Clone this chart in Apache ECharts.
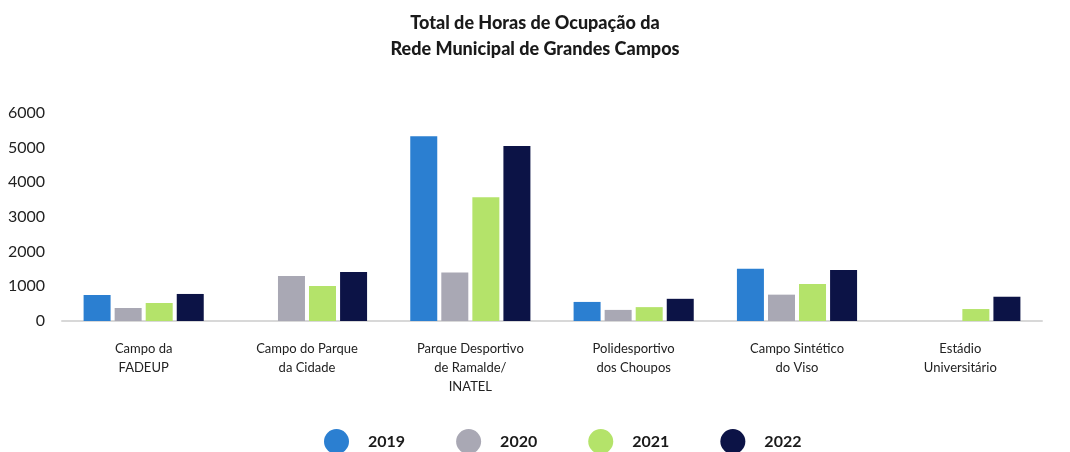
<!DOCTYPE html>
<html>
<head>
<meta charset="utf-8">
<script src="https://cdn.jsdelivr.net/npm/echarts@6/dist/echarts.min.js"></script>
<style>
  html, body { margin: 0; padding: 0; background: #fff; }
  #chart { width: 1070px; height: 452px; }
</style>
</head>
<body>
<div id="chart"></div>
<script>
// campos e horas por ano
var campos = [
    'Campo da\nFADEUP',
    'Campo do Parque\nda Cidade',
    'Parque Desportivo\nde Ramalde/\nINATEL',
    'Polidesportivo\ndos Choupos',
    'Campo Sintético\ndo Viso',
    'Estádio\nUniversitário'
];
var anos = ['2019', '2020', '2021', '2022'];
var horas2019 = [750, 0, 5330, 550, 1510, 0];
var horas2020 = [375, 1300, 1400, 320, 760, 0];
var horas2021 = [520, 1010, 3570, 400, 1070, 345];
var horas2022 = [780, 1410, 5050, 640, 1470, 700];
var yTicks = [0, 1000, 2000, 3000, 4000, 5000, 6000];

var cores = ['#2b7fd1', '#a9a8b4', '#b4e36a', '#0c1346'];
var valores = [horas2019, horas2020, horas2021, horas2022];

var grafico = echarts.init(document.getElementById('chart'));

var series = [];
for (var i = 0; i < anos.length; i++) {
    series.push({
        name: anos[i],
        type: 'bar',
        data: valores[i],
        barWidth: 27,
        barGap: '15%',
        itemStyle: { color: cores[i] }
    });
}

var opcao = {
    backgroundColor: '#fff',
    textStyle: { fontFamily: 'Lato' },
    title: {
        text: 'Total de Horas de Ocupação da\nRede Municipal de Grandes Campos',
        left: 'center',
        top: 5,
        textStyle: {
            fontFamily: 'Lato',
            fontSize: 18,
            fontWeight: 900,
            color: '#1a1a1a',
            lineHeight: 26
        }
    },
    legend: {
        data: anos,
        top: 424,
        left: 319,
        icon: 'circle',
        itemWidth: 25,
        itemHeight: 25,
        itemGap: 51,
        textStyle: {
            fontSize: 16,
            fontWeight: 'bold',
            color: '#1a1a1a',
            padding: [0, 0, 0, 14]
        }
    },
    grid: {
        left: 62,
        right: 28,
        top: 113,
        bottom: 131,
        containLabel: false
    },
    xAxis: {
        type: 'category',
        data: campos,
        axisTick: { show: false },
        axisLine: { lineStyle: { color: '#d8d8d8', width: 2 } },
        axisLabel: {
            interval: 0,
            margin: 18,
            fontSize: 13,
            lineHeight: 19,
            color: '#222'
        }
    },
    yAxis: {
        type: 'value',
        min: yTicks[0],
        max: yTicks[yTicks.length - 1],
        interval: 1000,
        splitLine: { show: false },
        axisLine: { show: false },
        axisTick: { show: false },
        axisLabel: {
            fontSize: 16,
            color: '#222',
            margin: 17,
            formatter: function (v) { return String(v); }
        }
    },
    series: series
};

grafico.setOption(opcao);
</script>
</body>
</html>
